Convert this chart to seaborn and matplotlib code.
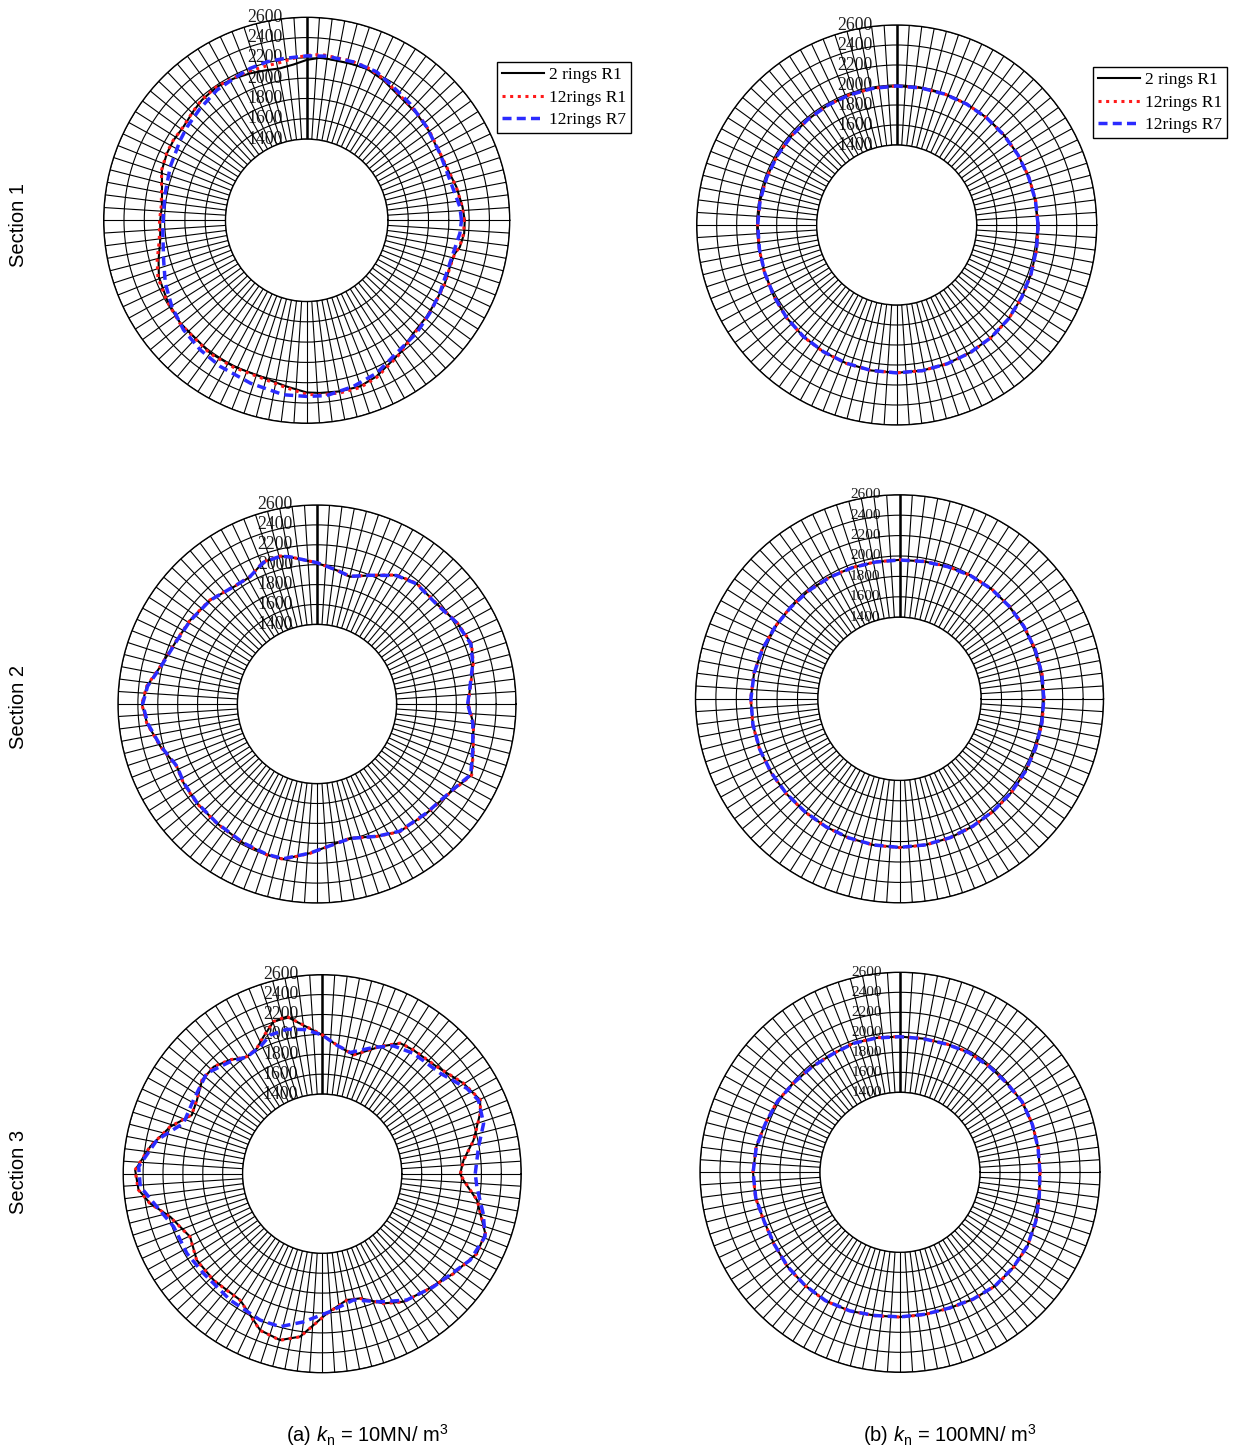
import numpy as np
import pandas as pd
import matplotlib
matplotlib.use('Agg')
import matplotlib.pyplot as plt
import matplotlib.transforms as mtransforms
import seaborn as sns

# ---------------- data: polar angle (deg, from east, ccw) and radius (mm) ----------------
series_names = ['2 rings R1', '12rings R1', '12rings R7']

# Section 1, kn = 10
s1_k10_deg = [0, 4.9, 12.5, 20.9, 29.5, 36.6, 44.2, 53, 61.4, 68.5, 74.6, 84.8, 90, 94.9,
              100, 104.9, 111, 117.3, 124, 131, 136, 143, 149, 154.4, 160.9, 169.5, 174.6,
              180, 187.6, 195, 201, 209.6, 219, 225.7, 234, 243.4, 253.4, 263, 270, 274.4,
              281, 287.8, 294, 298.7, 305, 313.3, 321, 328.4, 335.4, 342, 347.3, 350, 355.2]
s1_k10_2r_r1 = [2157, 2141, 2112, 2073, 2070, 2092, 2110, 2125, 2174, 2207, 2203, 2210, 2180,
                2140, 2120, 2131, 2151, 2171, 2185, 2172, 2150, 2124, 2131, 2127, 2110, 2050,
                2033, 2043, 2056, 2111, 2160, 2184, 2206, 2197, 2217, 2210, 2205, 2249, 2296,
                2306, 2317, 2318, 2285, 2240, 2198, 2131, 2116, 2102, 2097, 2083, 2095, 2131,
                2157]
s1_k10_12r_r1 = [2152, 2138, 2110, 2076, 2075, 2098, 2116, 2135, 2185, 2222, 2230, 2240, 2225,
                 2200, 2175, 2172, 2175, 2178, 2188, 2175, 2152, 2126, 2133, 2130, 2113, 2055,
                 2040, 2050, 2065, 2125, 2170, 2190, 2210, 2203, 2222, 2218, 2215, 2262, 2315,
                 2325, 2332, 2330, 2295, 2248, 2205, 2140, 2120, 2104, 2098, 2085, 2095, 2128,
                 2152]
s1_k10_r7_deg = [0, 5, 10.3, 15.7, 26.7, 38, 48.5, 57, 64.8, 73.6, 83, 90, 98, 104, 110.4,
                 117.3, 124.6, 133.6, 142, 147.6, 158.6, 169, 177, 185, 195.5, 204, 212.6,
                 221.6, 230.6, 239.4, 251, 262.4, 270, 276.5, 285.7, 294.6, 304, 314.2, 323,
                 331.3, 339.3, 347.3, 355.2]
s1_k10_12r_r7 = [2125, 2115, 2083, 2066, 2069, 2098, 2135, 2167, 2217, 2227, 2229, 2220, 2210,
                 2210, 2197, 2171, 2158, 2122, 2095, 2075, 2044, 2019, 2013, 2023, 2063, 2125,
                 2177, 2224, 2252, 2273, 2298, 2334, 2335, 2338, 2300, 2256, 2180, 2151, 2119,
                 2095, 2073, 2079, 2115]

# Section 2, kn = 10
s2_k10_deg = [0, 5.2, 14.6, 21.4, 30.5, 40, 50.4, 58.3, 67.7, 75.5, 81.6, 90, 100.4, 104,
              110.7, 117.8, 124, 135.8, 146.5, 155.5, 166.6, 174, 180, 186.5, 195, 204, 210.7,
              219.5, 230, 242, 251.6, 257.8, 267.3, 278, 283.8, 294.2, 303, 315, 327.8, 335.3,
              343.6, 353]
s2_k10_2r_r1 = [2118, 2142, 2222, 2266, 2226, 2168, 2171, 2122, 1997, 1921, 1958, 2018, 2102,
                2131, 2125, 2044, 2041, 2098, 2128, 2148, 2219, 2319, 2359, 2319, 2232, 2142,
                2159, 2165, 2165, 2182, 2196, 2195, 2101, 2012, 1988, 2058, 2128, 2155, 2218,
                2309, 2236, 2182]
s2_k10_12r_r1 = [2120, 2144, 2224, 2268, 2228, 2170, 2173, 2124, 1999, 1924, 1960, 2020, 2104,
                 2133, 2127, 2046, 2043, 2100, 2130, 2150, 2221, 2321, 2361, 2321, 2234, 2144,
                 2161, 2167, 2167, 2184, 2198, 2197, 2103, 2014, 1990, 2060, 2130, 2157, 2220,
                 2311, 2238, 2184]
s2_k10_12r_r7 = [2114, 2140, 2218, 2260, 2222, 2165, 2168, 2118, 1998, 1925, 1960, 2020, 2104,
                 2130, 2122, 2046, 2044, 2096, 2124, 2145, 2214, 2312, 2352, 2313, 2228, 2140,
                 2156, 2162, 2163, 2180, 2193, 2191, 2100, 2014, 1992, 2058, 2125, 2152, 2214,
                 2300, 2232, 2178]

# Section 3, kn = 10
s3_k10_deg = [0, 5.5, 12.5, 20.9, 25, 32.6, 43, 53.6, 59.1, 65.5, 75.2, 83.5, 90, 102.7,
              107.8, 113.2, 117.5, 122.8, 129, 135.4, 142, 149.6, 155.8, 162.8, 171, 178.9,
              185, 189.8, 195.8, 205.5, 214.6, 224.4, 237, 248.4, 255.8, 262.3, 272, 281, 287,
              295.3, 302.4, 312, 322.8, 332.7, 339.9, 350.3, 357.4]
s3_k10_2r_r1 = [1987, 2027, 2158, 2299, 2352, 2285, 2175, 2144, 2128, 2004, 1833, 1900, 1994,
                2218, 2204, 2098, 2020, 1997, 2071, 2131, 2131, 2060, 2037, 2198, 2349, 2480,
                2453, 2355, 2188, 2071, 2131, 2128, 2114, 2292, 2325, 2252, 2004, 1893, 1910,
                2041, 2124, 2171, 2258, 2349, 2345, 2178, 2020]
s3_k10_12r_r1 = [1989, 2029, 2160, 2301, 2354, 2287, 2177, 2146, 2130, 2006, 1835, 1902, 1996,
                 2220, 2206, 2100, 2022, 1999, 2073, 2133, 2133, 2062, 2039, 2200, 2351, 2482,
                 2455, 2357, 2190, 2073, 2133, 2130, 2116, 2294, 2327, 2254, 2006, 1895, 1912,
                 2043, 2126, 2173, 2260, 2351, 2347, 2180, 2022]
s3_k10_r7_deg = [0, 9.8, 17.3, 25.2, 30.5, 40.4, 52.8, 60.8, 67.9, 77, 83.5, 90, 97, 103.8,
                 110.6, 116, 122.8, 129.4, 139, 150, 160, 168.5, 177.8, 184, 191.3, 199.6,
                 210.5, 220, 234, 247, 254.6, 262.8, 273, 284, 294.4, 303.8, 314.6, 329.7,
                 338.9, 346, 355]
s3_k10_12r_r7 = [2138, 2195, 2299, 2335, 2288, 2158, 2118, 2071, 1970, 1850, 1900, 1994, 2060,
                 2094, 2088, 2020, 1997, 2057, 2138, 2091, 2084, 2295, 2446, 2433, 2295, 2185,
                 2178, 2158, 2171, 2198, 2195, 2101, 1990, 1907, 2014, 2128, 2195, 2322, 2355,
                 2268, 2161]

# kn = 100 panels, read every 10 deg
k100_deg = list(range(0, 360, 10))
s1_k100_2r_r1 = [2015, 2010, 2005, 2002, 2000, 2000, 1998, 1995, 1992, 1990, 1988, 1985,
                 1982, 1980, 1980, 1982, 1985, 1988, 1990, 1995, 2005, 2020, 2040, 2055,
                 2065, 2072, 2077, 2078, 2078, 2076, 2072, 2068, 2060, 2045, 2030, 2020]
s1_k100_12r_r1 = [2016, 2011, 2006, 2003, 2001, 2000, 1998, 1995, 1993, 1991, 1988, 1985,
                  1983, 1981, 1980, 1982, 1985, 1989, 1991, 1996, 2006, 2021, 2041, 2056,
                  2066, 2073, 2078, 2079, 2079, 2077, 2073, 2069, 2061, 2046, 2031, 2021]
s1_k100_12r_r7 = [2014, 2009, 2004, 2001, 1999, 1999, 1997, 1994, 1992, 1990, 1987, 1984,
                  1982, 1980, 1979, 1981, 1984, 1988, 1990, 1994, 2004, 2019, 2039, 2054,
                  2064, 2071, 2077, 2079, 2079, 2077, 2073, 2068, 2060, 2044, 2029, 2019]
s2_k100_2r_r1 = [2016, 2018, 2016, 2012, 2008, 2005, 1995, 1980, 1968, 1962, 1962, 1968,
                 1975, 1985, 1995, 2010, 2030, 2048, 2058, 2060, 2058, 2052, 2048, 2045,
                 2048, 2052, 2056, 2058, 2055, 2050, 2042, 2035, 2030, 2025, 2020, 2017]
s2_k100_12r_r1 = [2017, 2019, 2017, 2013, 2009, 2006, 1996, 1981, 1969, 1963, 1963, 1969,
                  1976, 1986, 1996, 2011, 2031, 2049, 2059, 2061, 2059, 2053, 2049, 2046,
                  2049, 2053, 2057, 2059, 2056, 2051, 2043, 2036, 2031, 2026, 2021, 2018]
s2_k100_12r_r7 = [2015, 2017, 2015, 2011, 2007, 2004, 1994, 1979, 1967, 1961, 1961, 1967,
                  1974, 1984, 1994, 2009, 2029, 2047, 2057, 2059, 2057, 2051, 2047, 2044,
                  2047, 2051, 2055, 2057, 2054, 2049, 2041, 2034, 2029, 2024, 2019, 2016]
s3_k100_2r_r1 = [2000, 2003, 2008, 2012, 1992, 1985, 1982, 1965, 1957, 1957, 1965, 1972,
                 1962, 1975, 1990, 2017, 2032, 2060, 2070, 2066, 2045, 2050, 2068, 2078,
                 2085, 2075, 2055, 2047, 2043, 2045, 2065, 2082, 2080, 2072, 2045, 2015]
s3_k100_12r_r1 = [2001, 2004, 2009, 2013, 1993, 1986, 1983, 1966, 1958, 1958, 1966, 1973,
                  1963, 1976, 1991, 2018, 2033, 2061, 2071, 2067, 2046, 2051, 2069, 2079,
                  2086, 2076, 2056, 2048, 2044, 2046, 2066, 2083, 2081, 2073, 2046, 2016]
s3_k100_12r_r7 = [1999, 2002, 2007, 2011, 1991, 1984, 1981, 1964, 1956, 1956, 1964, 1971,
                  1961, 1974, 1989, 2016, 2031, 2059, 2069, 2065, 2044, 2049, 2067, 2077,
                  2084, 2074, 2054, 2046, 2042, 2044, 2064, 2081, 2079, 2071, 2044, 2014]

r_ticks = [1400, 1600, 1800, 2000, 2200, 2400, 2600]
r_origin = 600
spoke_step = 3.6

# ---------------- style ----------------
palette = {'2 rings R1': 'black', '12rings R1': '#ff1a1a', '12rings R7': '#2b2bff'}
dashes = {'2 rings R1': '', '12rings R1': (1, 1.5), '12rings R7': (2.6, 1.5)}
widths = {'2 rings R1': 1.5, '12rings R1': 2.2, '12rings R7': 2.5}

plt.rcParams['mathtext.fontset'] = 'custom'
plt.rcParams['mathtext.rm'] = 'Liberation Sans'
plt.rcParams['mathtext.it'] = 'Liberation Sans:italic'

W, H = 1236, 1453
fig = plt.figure(figsize=(W / 100, H / 100), dpi=100)


def add_polar(cx, cy, r):
    return fig.add_axes([(cx - r) / W, 1 - (cy + r) / H, 2 * r / W, 2 * r / H],
                        projection='polar')


def draw_panel(ax, curves, lab_fs, lab_dx):
    rows = []
    for name, (degs, vals) in zip(series_names, curves):
        aa = list(degs) + [360]
        vv = list(vals) + [vals[0]]   # close the loop
        for a, v in zip(aa, vv):
            rows.append({'theta': np.deg2rad(a), 'r': v, 'series': name})
    df = pd.DataFrame(rows)
    sns.lineplot(data=df, x='theta', y='r', hue='series', style='series',
                 hue_order=series_names, style_order=series_names,
                 palette=palette, dashes=dashes, sort=False, estimator=None,
                 legend=False, ax=ax)
    lines = list(ax.lines)
    for ln, name in zip(lines, series_names):
        ln.set_linewidth(widths[name])
        ln.set_zorder(3)
    ax.set_ylim(r_ticks[0], r_ticks[-1])
    ax.set_rorigin(r_origin)
    ax.set_xticks(np.deg2rad(np.arange(0, 360, spoke_step)))
    ax.set_xticklabels([])
    ax.set_yticks(r_ticks)
    ax.set_yticklabels([])
    ax.tick_params(length=0, pad=0)
    ax.grid(True, color='black', lw=0.8)
    for sp in ax.spines.values():
        sp.set_color('black')
        sp.set_linewidth(1.0)
    ax.set_xlabel('')
    ax.set_ylabel('')
    ax.axvline(np.pi / 2, color='black', lw=1.8, zorder=2)
    tr = mtransforms.offset_copy(ax.transData, fig=fig, x=-lab_dx, y=0, units='dots')
    for rv in r_ticks:
        ax.text(np.pi / 2, rv, str(rv), transform=tr, ha='right', va='center',
                fontsize=lab_fs, family='Liberation Serif', color='#1e1e1e', zorder=1)
    return lines


panels = [
    ((306.7, 220.3, 203),
     [(s1_k10_deg, s1_k10_2r_r1), (s1_k10_deg, s1_k10_12r_r1), (s1_k10_r7_deg, s1_k10_12r_r7)],
     12.8, 24),
    ((896.7, 225.0, 200),
     [(k100_deg, s1_k100_2r_r1), (k100_deg, s1_k100_12r_r1), (k100_deg, s1_k100_12r_r7)],
     12.8, 24),
    ((317.0, 704.0, 199),
     [(s2_k10_deg, s2_k10_2r_r1), (s2_k10_deg, s2_k10_12r_r1), (s2_k10_deg, s2_k10_12r_r7)],
     12.8, 24),
    ((899.5, 698.8, 204),
     [(k100_deg, s2_k100_2r_r1), (k100_deg, s2_k100_12r_r1), (k100_deg, s2_k100_12r_r7)],
     11.0, 19),
    ((322.2, 1173.7, 199),
     [(s3_k10_deg, s3_k10_2r_r1), (s3_k10_deg, s3_k10_12r_r1), (s3_k10_r7_deg, s3_k10_12r_r7)],
     12.8, 24),
    ((900.0, 1172.3, 200),
     [(k100_deg, s3_k100_2r_r1), (k100_deg, s3_k100_12r_r1), (k100_deg, s3_k100_12r_r7)],
     11.0, 18),
]

all_lines = []
for (cx, cy, r), curves, fs, dx in panels:
    ax = add_polar(cx, cy, r)
    all_lines.append(draw_panel(ax, curves, fs, dx))

# legends for the first row
for lines, (lx, ly) in zip(all_lines[:2], [(497, 62), (1093, 67)]):
    leg = fig.legend(lines, series_names, loc='upper left',
                     bbox_to_anchor=(lx / W, 1 - ly / H), frameon=True, fancybox=False,
                     edgecolor='black', framealpha=1,
                     prop={'family': 'Liberation Serif', 'size': 12.5},
                     handlelength=2.4, handletextpad=0.3, borderpad=0.3,
                     labelspacing=0.35, borderaxespad=0)
    leg.get_frame().set_linewidth(1.0)

# row labels
for txt, y in [('Section 1', 225), ('Section 2', 707), ('Section 3', 1172)]:
    fig.text(19 / W, 1 - y / H, txt, rotation=90, ha='center', va='center',
             fontsize=14.5, family='Liberation Sans')

# column captions
fig.text(367.5 / W, 1 - 1435 / H, r'(a) $k_\mathrm{n}$ = 10MN/ m$^3$', ha='center',
         va='center', fontsize=14.5, family='Liberation Sans')
fig.text(950 / W, 1 - 1435 / H, r'(b) $k_\mathrm{n}$ = 100MN/ m$^3$', ha='center',
         va='center', fontsize=14.5, family='Liberation Sans')

fig.savefig('out.png', dpi=100)
